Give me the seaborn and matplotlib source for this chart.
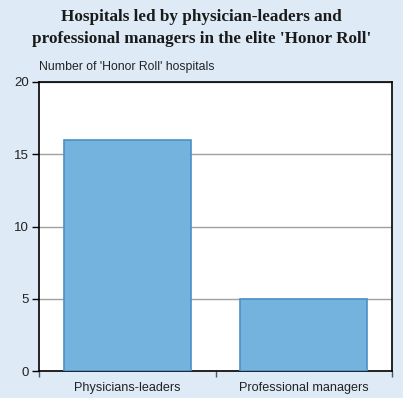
import seaborn as sns
import matplotlib.pyplot as plt
import pandas as pd

categories = ["Physicians-leaders", "Professional managers"]
counts = [16, 5]
yticks = [0, 5, 10, 15, 20]

bg = "#deebf7"
bar_color = "#74b3de"
edge_color = "#4a90c8"

sns.set_theme(style="white")
plt.rcParams["font.family"] = ["Liberation Sans", "DejaVu Sans"]

df = pd.DataFrame({"group": categories, "n": counts})

fig = plt.figure(figsize=(4.03, 3.98), dpi=100, facecolor=bg)
ax = fig.add_axes([39 / 403, 27 / 398, 353 / 403, 289 / 398])
ax.set_facecolor("white")

sns.barplot(data=df, x="group", y="n", color=bar_color, edgecolor=edge_color,
            linewidth=1.2, width=0.72, saturation=1, ax=ax, zorder=3)

ax.set_xlim(-0.5, 1.5)
ax.set_ylim(0, 20)
ax.set_yticks(yticks)
ax.yaxis.grid(True, color="#a0a0a0", linewidth=1, zorder=0)
ax.set_axisbelow(True)
for s in ax.spines.values():
    s.set_color("black")
    s.set_linewidth(1.2)
    s.set_visible(True)

ax.set_xlabel("")
ax.set_ylabel("")
ax.set_xticks([0, 1])
ax.set_xticklabels(categories)
ax.set_xticks([-0.5, 0.5, 1.5], minor=True)
ax.tick_params(axis="x", which="major", length=0, pad=8, labelsize=9.1, colors="#222222")
ax.tick_params(axis="x", which="minor", bottom=True, length=4, width=1, color="#555555", direction="out")
ax.tick_params(axis="y", left=True, length=5, width=1, color="black", labelsize=9.5,
               labelcolor="#222222", direction="out", pad=2)

fig.text(39 / 403, 1 - 67 / 398, "Number of 'Honor Roll' hospitals", fontsize=8.8,
         color="#222222", va="center", ha="left")
fig.text(0.5, 1 - 28 / 398,
         "Hospitals led by physician-leaders and\nprofessional managers in the elite 'Honor Roll'",
         family=["Liberation Serif", "DejaVu Serif"], fontweight="bold", fontsize=12.3,
         ha="center", va="center", color="#1a1a1a", linespacing=1.45)

fig.savefig("out.png", dpi=100, facecolor=bg)
